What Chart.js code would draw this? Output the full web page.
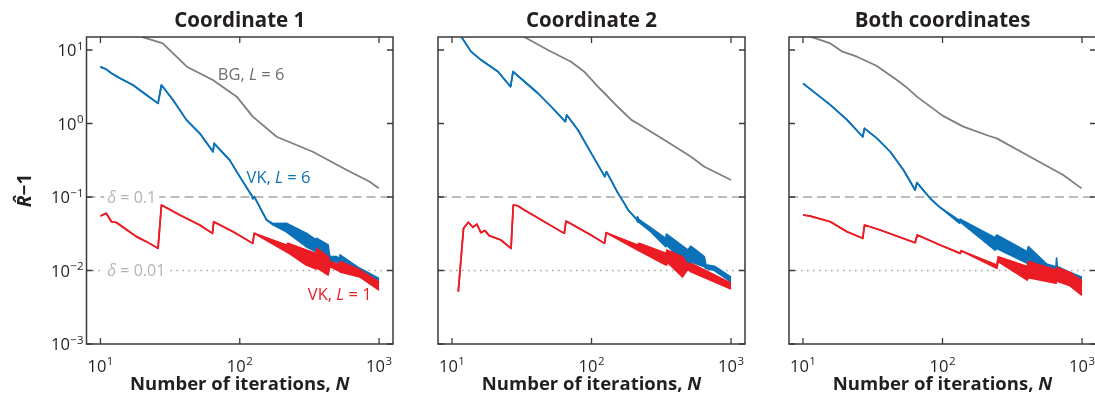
<!DOCTYPE html>
<html><head><meta charset="utf-8">
<script src="https://cdn.jsdelivr.net/npm/chart.js@4.4.0/dist/chart.umd.min.js"></script>
<style>
html,body{margin:0;padding:0;background:#fff;overflow:hidden;width:1095px;height:393px}
canvas{position:absolute;top:0}
</style></head><body>
<canvas id="c1" width="415" height="393" style="left:0px"></canvas>
<canvas id="c2" width="352" height="393" style="left:415px"></canvas>
<canvas id="c3" width="330" height="393" style="left:767px"></canvas>
<script>
// ---------- axis / tick data ----------
const X_MIN = 7.94, X_MAX = 1259, Y_MIN = 0.001, Y_MAX = 15.03;
const xTickValues = [10, 100, 1000];
const xTickExponents = ['1', '2', '3'];
const yTickValues = [10, 1, 0.1, 0.01, 0.001];
const yTickExponents = ['1', '0', '\u22121', '\u22122', '\u22123'];
const deltaLevels = [0.1, 0.01];
const deltaLabels = ['0.1', '0.01'];
const panelTitles = ['Coordinate 1', 'Coordinate 2', 'Both coordinates'];

// ---------- Coordinate 1 ----------
const c1GrayN = [16, 20.1, 28.0, 41.7, 64.1, 95.1, 124, 184, 334, 586, 857, 995];
const c1GrayR = [19, 15.0, 12.3, 5.93, 3.91, 2.32, 1.24, 0.66, 0.413, 0.233, 0.161, 0.132];
const c1BlueN = [10, 11, 12, 13.8, 17.1, 21.4, 25.9, 27.4, 33.2, 41.4, 51.6, 64.3, 65.4, 84.7, 100, 122, 124, 127, 156, 173, 216, 300, 354, 356, 431, 443, 494, 520, 524, 726, 1000];
const c1BlueLo = [5.9, 5.46, 4.82, 4.12, 3.34, 2.44, 1.88, 3.34, 2.09, 1.12, 0.736, 0.413, 0.537, 0.318, 0.189, 0.104, 0.095, 0.101, 0.0486, 0.042, 0.0337, 0.0211, 0.0180, 0.0190, 0.0163, 0.0132, 0.0132, 0.0125, 0.0132, 0.0096, 0.0067];
const c1BlueHi = [5.9, 5.46, 4.82, 4.12, 3.34, 2.44, 1.88, 3.34, 2.09, 1.12, 0.736, 0.413, 0.537, 0.318, 0.189, 0.104, 0.095, 0.101, 0.0486, 0.0435, 0.0439, 0.0321, 0.026, 0.0274, 0.0222, 0.0155, 0.0154, 0.0148, 0.0163, 0.0107, 0.0078];
const c1RedN = [10, 11, 12, 13, 14.9, 18.1, 21.4, 25.9, 27.4, 37.1, 51.6, 63.7, 65, 89.6, 124, 127, 216, 222, 300, 354, 356, 431, 443, 520, 524, 726, 1000];
const c1RedLo = [0.0551, 0.060, 0.0461, 0.045, 0.0375, 0.0289, 0.0247, 0.020, 0.0778, 0.0569, 0.0416, 0.032, 0.0461, 0.0337, 0.0234, 0.0321, 0.0180, 0.0175, 0.0119, 0.0105, 0.0110, 0.0087, 0.0113, 0.0098, 0.0096, 0.0082, 0.0054];
const c1RedHi = [0.0551, 0.060, 0.0461, 0.045, 0.0375, 0.0289, 0.0247, 0.020, 0.0778, 0.0569, 0.0416, 0.032, 0.0461, 0.0337, 0.0234, 0.0321, 0.0222, 0.0234, 0.0190, 0.0170, 0.0200, 0.0154, 0.0132, 0.0120, 0.0132, 0.0102, 0.0070];

// ---------- Coordinate 2 ----------
const c2GrayN = [28, 33, 48.7, 71.3, 88.7, 111, 124, 154, 193, 214, 333, 517, 644, 1000];
const c2GrayR = [19, 15, 10, 6.93, 5.07, 3.17, 2.58, 1.69, 1.12, 1.0, 0.597, 0.353, 0.258, 0.170];
const c2BlueN = [11, 11.7, 13.7, 16.2, 21.4, 26.3, 27.4, 33.2, 41.3, 51.5, 64.9, 66.4, 80, 99.7, 124.5, 128, 155, 172, 183, 210, 214, 217, 267, 340, 345, 490, 515, 643, 660, 760, 1000];
const c2BlueLo = [20, 15, 9.5, 7.3, 5.07, 3.17, 5.07, 3.7, 2.58, 1.69, 1.06, 1.31, 0.816, 0.393, 0.189, 0.221, 0.112, 0.082, 0.0665, 0.050, 0.046, 0.046, 0.0335, 0.0211, 0.0222, 0.0119, 0.0132, 0.0113, 0.0107, 0.0100, 0.0070];
const c2BlueHi = [20, 15, 9.5, 7.3, 5.07, 3.17, 5.07, 3.7, 2.58, 1.69, 1.06, 1.31, 0.816, 0.393, 0.189, 0.221, 0.112, 0.082, 0.0665, 0.050, 0.0537, 0.050, 0.038, 0.0274, 0.0313, 0.019, 0.0214, 0.0154, 0.0119, 0.0114, 0.0081];
const c2RedN = [11.1, 12.1, 13.1, 14.1, 15.1, 16.1, 17.2, 18.5, 22.4, 26.5, 27.5, 29.6, 33, 63.8, 65.6, 99, 124, 127.5, 214, 219, 342, 346, 449, 490, 515, 1000];
const c2RedLo = [0.00515, 0.0375, 0.0453, 0.0387, 0.0426, 0.0327, 0.0349, 0.0298, 0.026, 0.020, 0.0778, 0.076, 0.0665, 0.032, 0.0471, 0.0304, 0.0234, 0.0327, 0.019, 0.0185, 0.0119, 0.0132, 0.0082, 0.0105, 0.0096, 0.0056];
const c2RedHi = [0.00515, 0.0375, 0.0453, 0.0387, 0.0426, 0.0327, 0.0349, 0.0298, 0.026, 0.020, 0.0778, 0.076, 0.0665, 0.032, 0.0471, 0.0304, 0.0234, 0.0327, 0.0222, 0.0234, 0.0171, 0.019, 0.0154, 0.0119, 0.0125, 0.0067];

// ---------- Both coordinates ----------
const c3GrayN = [10, 11.6, 15.7, 19.2, 24.4, 33.6, 47.1, 54.5, 65.5, 100, 141, 216, 245, 424, 733, 992];
const c3GrayR = [17, 15, 12.3, 9.5, 8.11, 6.1, 3.91, 3.17, 2.32, 1.28, 0.906, 0.676, 0.628, 0.353, 0.199, 0.131];
const c3BlueN = [10, 15.7, 20.7, 26.8, 27.6, 33.9, 42.2, 52.5, 63.6, 65.5, 81.5, 94.6, 132, 134, 136, 238, 245, 405, 412, 558, 650, 657, 664, 843, 1000];
const c3BlueLo = [3.52, 1.79, 1.12, 0.66, 0.86, 0.628, 0.413, 0.233, 0.1245, 0.157, 0.096, 0.0738, 0.044, 0.0461, 0.045, 0.019, 0.020, 0.0126, 0.0132, 0.0107, 0.0100, 0.0105, 0.0098, 0.0081, 0.0066];
const c3BlueHi = [3.52, 1.79, 1.12, 0.66, 0.86, 0.628, 0.413, 0.233, 0.1245, 0.157, 0.096, 0.0738, 0.048, 0.050, 0.049, 0.028, 0.0304, 0.018, 0.0211, 0.0122, 0.0112, 0.0147, 0.0113, 0.0092, 0.0081];
const c3RedN = [10, 11.3, 15.7, 20.7, 26.8, 27.6, 35.7, 63.6, 66, 96, 134, 136, 245, 251, 405, 412, 650, 657, 820, 1000];
const c3RedLo = [0.0569, 0.055, 0.0461, 0.0337, 0.0274, 0.0416, 0.0356, 0.0239, 0.0304, 0.0222, 0.0171, 0.0186, 0.0107, 0.0132, 0.0074, 0.0080, 0.0067, 0.0072, 0.0062, 0.0046];
const c3RedHi = [0.0569, 0.055, 0.0461, 0.0337, 0.0274, 0.0416, 0.0356, 0.0239, 0.0304, 0.0222, 0.0171, 0.0186, 0.0119, 0.0154, 0.0113, 0.0132, 0.0102, 0.0110, 0.0094, 0.0072];

// ---------- styling ----------
const FONT = '"Open Sans", "Noto Sans", "DejaVu Sans", sans-serif';
const COL_GRAY = '#7f7f7f', COL_BLUE = '#0b72b9', COL_RED = '#ec1c24';
const COL_TEXT = '#231f20', COL_FRAME = '#3a3a3a', COL_REF = '#a6a6a6', COL_DELTA = '#b4b4b4';

const pts = (xs, ys) => xs.map((x, i) => ({x: x, y: ys[i]}));

function seriesDatasets(s) {
  const line = (data, color, w, fill) => ({
    data, borderColor: color, backgroundColor: color, borderWidth: w,
    pointRadius: 0, tension: 0, fill: fill, borderJoinStyle: 'round'
  });
  return [
    line(pts(s.redN, s.redLo), COL_RED, 1.7, false),
    line(pts(s.redN, s.redHi), COL_RED, 1.7, '-1'),
    line(pts(s.blueN, s.blueLo), COL_BLUE, 1.7, false),
    line(pts(s.blueN, s.blueHi), COL_BLUE, 1.7, '-1'),
    line(pts(s.grayN, s.grayR), COL_GRAY, 1.8, false),
    Object.assign(line(pts([X_MIN, X_MAX], [deltaLevels[0], deltaLevels[0]]), COL_REF, 1.3, false), {borderDash: [9, 5]}),
    Object.assign(line(pts([X_MIN, X_MAX], [deltaLevels[1], deltaLevels[1]]), COL_REF, 1.5, false), {borderDash: [1.6, 4.4]})
  ];
}

function drawPow(ctx, xAnchor, baseY, exp, align) {
  ctx.font = '16.5px ' + FONT; const wb = ctx.measureText('10').width;
  ctx.font = '11.5px ' + FONT; const we = ctx.measureText(exp).width;
  const x0 = align === 'right' ? xAnchor - wb - we - 0.5 : xAnchor - (wb + we + 0.5) / 2;
  ctx.textAlign = 'left'; ctx.textBaseline = 'alphabetic'; ctx.fillStyle = COL_TEXT;
  ctx.font = '16.5px ' + FONT; ctx.fillText('10', x0, baseY);
  ctx.font = '11.5px ' + FONT; ctx.fillText(exp, x0 + wb + 0.5, baseY - 6.5);
}

function drawParts(ctx, parts, x, y, align) {
  let total = 0;
  parts.forEach(p => { ctx.font = p[1]; total += ctx.measureText(p[0]).width; });
  let cx = align === 'center' ? x - total / 2 : x;
  ctx.textAlign = 'left'; ctx.textBaseline = 'alphabetic';
  parts.forEach(p => { ctx.font = p[1]; ctx.fillText(p[0], cx, y); cx += ctx.measureText(p[0]).width; });
  return total;
}

function decor(idx) {
  return {
    id: 'decor' + idx,
    afterDatasetsDraw(chart) {
      if (idx !== 0) return;
      const ctx = chart.ctx, xs = chart.scales.x, ys = chart.scales.y;
      ctx.save();
      // delta labels on the reference lines
      deltaLevels.forEach((lv, i) => {
        const y = ys.getPixelForValue(lv);
        const x0 = xs.getPixelForValue(11.2);
        ctx.font = 'italic 16px ' + FONT; const w1 = ctx.measureText('\u03b4').width;
        ctx.font = '16px ' + FONT; const w2 = ctx.measureText(' = ' + deltaLabels[i]).width;
        ctx.fillStyle = '#fff'; ctx.fillRect(x0 - 3, y - 8, w1 + w2 + 6, 16);
        ctx.fillStyle = COL_DELTA;
        drawParts(ctx, [['\u03b4', 'italic 16px ' + FONT], [' = ' + deltaLabels[i], '16px ' + FONT]], x0, y + 5.5, 'left');
      });
      // series labels
      const lab = (color, a, b, n, r) => {
        ctx.fillStyle = color;
        drawParts(ctx, [[a, '16.5px ' + FONT], ['L', 'italic 16.5px ' + FONT], [b, '16.5px ' + FONT]],
          xs.getPixelForValue(n), ys.getPixelForValue(r), 'left');
      };
      lab('#6d6e71', 'BG, ', ' = 6', 69.5, 3.9);
      lab(COL_BLUE, 'VK, ', ' = 6', 112, 0.155);
      lab(COL_RED, 'VK, ', ' = 1', 308, 0.0040);
      ctx.restore();
    },
    afterDraw(chart) {
      const ctx = chart.ctx, a = chart.chartArea, xs = chart.scales.x, ys = chart.scales.y;
      ctx.save();
      // frame
      ctx.strokeStyle = COL_FRAME; ctx.lineWidth = 1.5;
      ctx.strokeRect(a.left, a.top, a.right - a.left, a.bottom - a.top);
      // inward ticks on all four sides
      ctx.lineWidth = 1.3; ctx.beginPath();
      const T = 6;
      xTickValues.forEach(v => {
        const x = xs.getPixelForValue(v);
        ctx.moveTo(x, a.bottom); ctx.lineTo(x, a.bottom - T);
        ctx.moveTo(x, a.top); ctx.lineTo(x, a.top + T);
      });
      yTickValues.forEach(v => {
        const y = ys.getPixelForValue(v);
        ctx.moveTo(a.left, y); ctx.lineTo(a.left + T, y);
        ctx.moveTo(a.right, y); ctx.lineTo(a.right - T, y);
      });
      ctx.stroke();
      // tick labels
      xTickValues.forEach((v, i) => drawPow(ctx, xs.getPixelForValue(v), a.bottom + 27.5, xTickExponents[i], 'center'));
      if (idx === 0) {
        yTickValues.forEach((v, i) => drawPow(ctx, a.left - 3, ys.getPixelForValue(v) + 6, yTickExponents[i], 'right'));
      }
      const cx = (a.left + a.right) / 2;
      ctx.fillStyle = COL_TEXT;
      // panel title
      drawParts(ctx, [[panelTitles[idx], 'bold 20.5px ' + FONT]], cx, a.top - 10.5, 'center');
      // x axis title
      drawParts(ctx, [['Number of iterations, ', 'bold 18.5px ' + FONT], ['N', 'italic bold 18.5px ' + FONT]], cx, a.bottom + 46, 'center');
      // y axis title
      if (idx === 0) {
        ctx.translate(31, (a.top + a.bottom) / 2);
        ctx.rotate(-Math.PI / 2);
        drawParts(ctx, [['R\u0302', 'italic bold 19px "Noto Sans", "DejaVu Sans", sans-serif'], ['\u22121', 'bold 19px ' + FONT]], 0, 0, 'center');
      }
      ctx.restore();
    }
  };
}

const panels = [
  {id: 'c1', pad: {left: 86.5, right: 22, top: 37, bottom: 49},
   s: {grayN: c1GrayN, grayR: c1GrayR, blueN: c1BlueN, blueLo: c1BlueLo, blueHi: c1BlueHi, redN: c1RedN, redLo: c1RedLo, redHi: c1RedHi}},
  {id: 'c2', pad: {left: 23, right: 22, top: 37, bottom: 49},
   s: {grayN: c2GrayN, grayR: c2GrayR, blueN: c2BlueN, blueLo: c2BlueLo, blueHi: c2BlueHi, redN: c2RedN, redLo: c2RedLo, redHi: c2RedHi}},
  {id: 'c3', pad: {left: 22, right: 1, top: 37, bottom: 49},
   s: {grayN: c3GrayN, grayR: c3GrayR, blueN: c3BlueN, blueLo: c3BlueLo, blueHi: c3BlueHi, redN: c3RedN, redLo: c3RedLo, redHi: c3RedHi}}
];

panels.forEach((p, idx) => {
  new Chart(document.getElementById(p.id), {
    type: 'line',
    data: {datasets: seriesDatasets(p.s)},
    options: {
      responsive: false, animation: false, devicePixelRatio: 1, events: [],
      layout: {padding: p.pad},
      plugins: {legend: {display: false}, tooltip: {enabled: false}, title: {display: false}},
      scales: {
        x: {type: 'logarithmic', min: X_MIN, max: X_MAX, display: false},
        y: {type: 'logarithmic', min: Y_MIN, max: Y_MAX, display: false}
      }
    },
    plugins: [decor(idx)]
  });
});
</script>
</body></html>
